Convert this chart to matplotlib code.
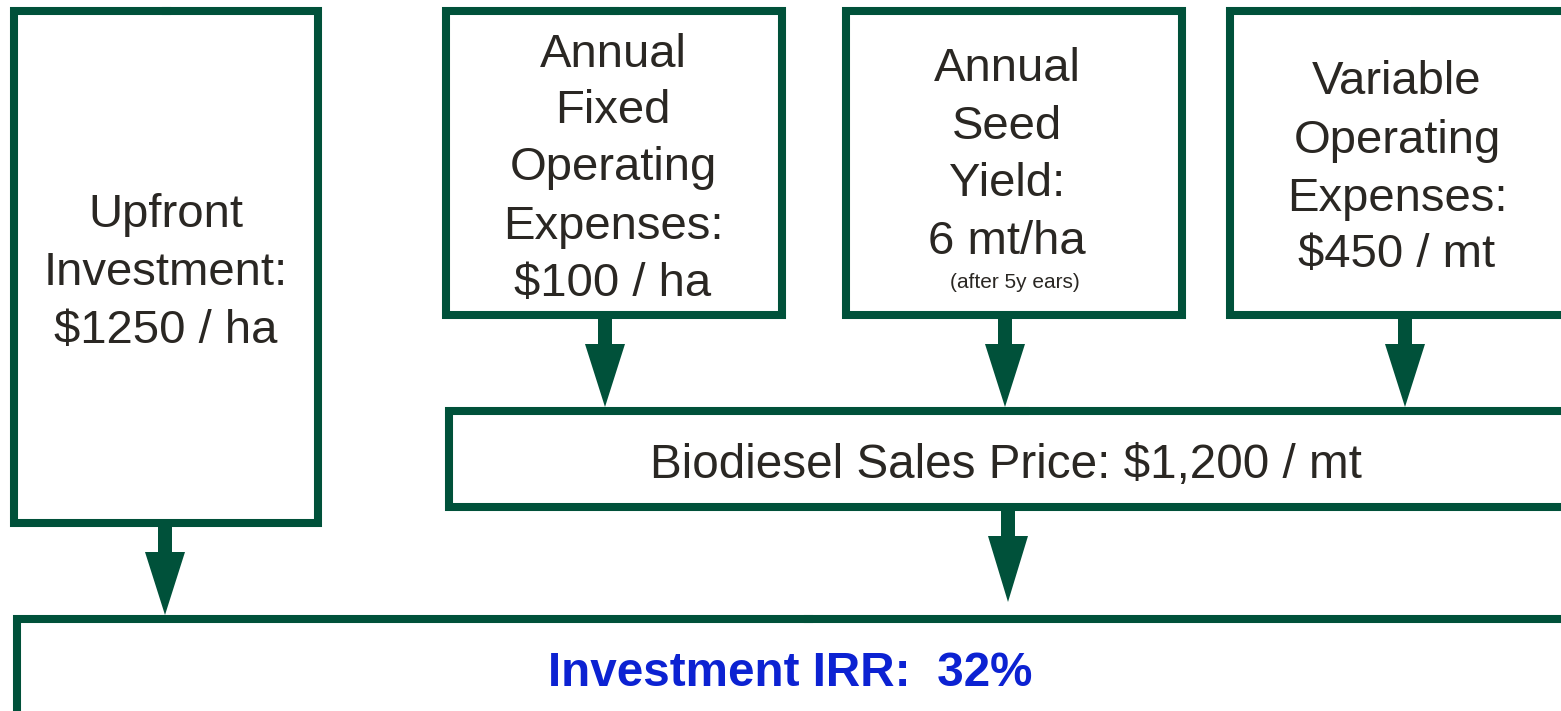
import matplotlib.pyplot as plt
from matplotlib.patches import Polygon

# canvas in pixel units (y grows downward)
W, H = 1561, 711
GREEN = '#00513a'
TEXT = '#2a2723'
BLUE = '#0c22d2'
FONT = 'Liberation Sans'

# boxes: (x0, y0, x1, y1) centre line of the stroke
boxes = [
    (14, 11, 318, 523),      # upfront investment
    (446, 11, 782, 315),     # annual fixed opex
    (846, 11, 1182, 315),    # seed yield
    (1230, 11, 1600, 315),   # variable opex (runs off the edge)
    (449, 411, 1600, 507),   # biodiesel price
    (17, 619, 1600, 760),    # IRR
]

# arrows: (x, y_start, y_head, y_tip)
arrows = [
    (165, 523, 552, 615),
    (605, 315, 344, 407),
    (1005, 315, 344, 407),
    (1405, 315, 344, 407),
    (1008, 507, 536, 602),
]

# text lines per box and their baselines
upfront_lines = ["Upfront", "Investment:", "$1250 / ha"]
upfront_base = [227, 285, 343]
fixed_lines = ["Annual", "Fixed", "Operating", "Expenses:", "$100 / ha"]
fixed_base = [67, 123, 180, 239, 296]
yield_lines = ["Annual", "Seed", "Yield:", "6 mt/ha"]
yield_base = [81, 139, 196, 254]
yield_note = "(after 5y ears)"
variable_lines = ["Variable", "Operating", "Expenses:", "$450 / mt"]
variable_base = [94, 153, 211, 267]
price_label = "Biodiesel Sales Price: $1,200 / mt"
irr_label = "Investment IRR:  32%"

fig = plt.figure(figsize=(W / 100, H / 100), dpi=100)
ax = fig.add_axes([0, 0, 1, 1])
ax.set_xlim(0, W)
ax.set_ylim(H, 0)
ax.axis('off')

# outline starts mid top edge so every corner is a proper mitre join
for x0, y0, x1, y1 in boxes:
    mx = (x0 + x1) / 2
    xs = [mx, x1, x1, x0, x0, mx + 1]
    ys = [y0, y0, y1, y1, y0, y0]
    ax.plot(xs, ys, color=GREEN, linewidth=5.8, solid_joinstyle='miter',
            solid_capstyle='projecting', clip_on=False)

shaft, head = 7, 20
for x, ys, yh, yt in arrows:
    pts = [(x - shaft, ys), (x + shaft, ys), (x + shaft, yh), (x + head, yh),
           (x, yt), (x - head, yh), (x - shaft, yh)]
    ax.add_patch(Polygon(pts, closed=True, facecolor=GREEN, edgecolor='none'))

def draw_lines(x, lines, bases):
    for s, b in zip(lines, bases):
        ax.text(x, b, s, ha='center', va='baseline', fontsize=34,
                family=FONT, color=TEXT)

draw_lines(166, upfront_lines, upfront_base)
draw_lines(613, fixed_lines, fixed_base)
draw_lines(1007, yield_lines, yield_base)
draw_lines(1397, variable_lines, variable_base)
ax.text(1015, 288, yield_note, ha='center', va='baseline', fontsize=15,
        family=FONT, color=TEXT)
ax.text(1006, 478, price_label, ha='center', va='baseline', fontsize=34.3,
        family=FONT, color=TEXT)
ax.text(790, 686, irr_label, ha='center', va='baseline', fontsize=34.3,
        family=FONT, color=BLUE, fontweight='bold')

fig.savefig('out.png', dpi=100)
